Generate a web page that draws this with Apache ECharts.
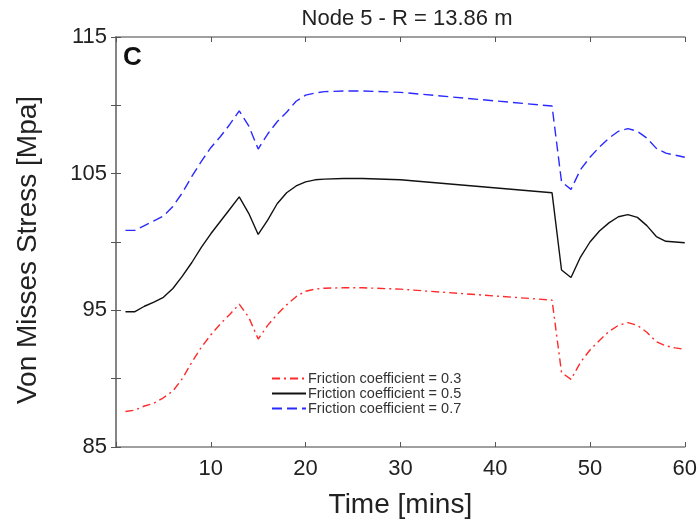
<!DOCTYPE html>
<html>
<head>
<meta charset="utf-8">
<script src="https://cdn.jsdelivr.net/npm/echarts@6/dist/echarts.min.js"></script>
<style>html,body{margin:0;padding:0;background:#fff}#c{width:700px;height:526px}</style>
</head>
<body>
<div id="c"></div>
<script>
// ---- data ----
const times = [1,2,3,4,5,6,7,8,9,10,11,12,13,14,15,16,17,18,19,20,21,22,24,26,30,46,47,48,49,50,51,52,53,54,55,56,57,58,59,60];
const mu03 = [87.6,87.7,88.0,88.2,88.6,89.1,90.0,91.2,92.3,93.2,94.0,94.7,95.45,94.5,92.9,93.9,94.7,95.4,96.0,96.4,96.55,96.62,96.65,96.65,96.55,95.75,90.45,89.95,91.2,92.1,92.8,93.45,93.9,94.1,93.9,93.4,92.7,92.4,92.25,92.15];
const mu05 = [94.9,94.9,95.3,95.6,95.95,96.6,97.5,98.5,99.6,100.6,101.5,102.4,103.3,102.1,100.55,101.6,102.8,103.6,104.1,104.4,104.55,104.6,104.65,104.65,104.55,103.6,97.95,97.4,98.9,100.0,100.8,101.4,101.85,102.0,101.8,101.2,100.4,100.05,100.0,99.95];
const mu07 = [100.85,100.85,101.2,101.55,101.9,102.6,103.6,104.8,105.9,106.9,107.7,108.6,109.6,108.5,106.8,107.9,108.8,109.5,110.3,110.75,110.9,111.0,111.05,111.05,110.95,109.95,104.4,103.85,105.3,106.2,106.95,107.6,108.1,108.3,108.1,107.6,106.85,106.5,106.35,106.2];
const seriesNames = ['Friction coefficient = 0.3','Friction coefficient = 0.5','Friction coefficient = 0.7'];
const yLabels = [85, 95, 105, 115];
const xLabels = [10, 20, 30, 40, 50, 60];
const titleText = 'Node 5 - R = 13.86 m';
const panelLetter = 'C';
const yName = 'Von Misses Stress [Mpa]';
const xName = 'Time [mins]';

const pair = arr => times.map((t, i) => [t, arr[i]]);
const font = 'Liberation Sans, Arial, Helvetica, sans-serif';
const axisLineStyle = { color: '#808080', width: 1.6 };
const tickStyle = { color: '#555', width: 1 };

const chart = echarts.init(document.getElementById('c'), null, { renderer: 'canvas' });
chart.setOption({
  animation: false,
  backgroundColor: '#fff',
  title: {
    text: titleText,
    left: 402, top: 3, textAlign: 'center',
    textStyle: { fontFamily: font, fontSize: 22, fontWeight: 'normal', color: '#222' }
  },
  graphic: [{
    type: 'text', left: 123, top: 45,
    style: { text: panelLetter, font: 'bold 26px ' + font, fill: '#111' }
  }, {
    type: 'text', x: 28, y: 250, rotation: Math.PI / 2,
    style: { text: yName, font: '28px ' + font, fill: '#222', align: 'center', verticalAlign: 'middle' }
  }],
  legend: {
    orient: 'vertical', left: 266, top: 366,
    itemWidth: 34, itemHeight: 10, itemGap: 0,
    itemStyle: { opacity: 0 },
    textStyle: { fontFamily: font, fontSize: 14.5, color: '#333', padding: [0,0,0,-3] },
    data: seriesNames
  },
  grid: { left: 116, right: 11, top: 37, bottom: 79 },
  xAxis: [{
    type: 'value', min: 0, max: 60, interval: 10,
    name: xName, nameLocation: 'middle', nameGap: 44,
    nameTextStyle: { fontFamily: font, fontSize: 28, color: '#222' },
    axisLine: { lineStyle: axisLineStyle },
    axisTick: { inside: true, length: 5, lineStyle: tickStyle },
    axisLabel: { fontFamily: font, fontSize: 22, color: '#222', margin: 11,
      formatter: v => xLabels.includes(v) ? String(v) : '' },
    splitLine: { show: false }
  }, {
    type: 'value', min: 0, max: 60, interval: 10, position: 'top',
    axisLine: { lineStyle: axisLineStyle },
    axisTick: { inside: true, length: 5, lineStyle: tickStyle },
    axisLabel: { show: false }, splitLine: { show: false }
  }],
  yAxis: [{
    type: 'value', min: 85, max: 115, interval: 5,
    axisLine: { show: true, lineStyle: axisLineStyle },
    axisTick: { show: true, inside: true, length: 5, lineStyle: tickStyle },
    axisLabel: { fontFamily: font, fontSize: 22, color: '#222', margin: 9,
      formatter: v => yLabels.includes(v) ? String(v) : '' },
    splitLine: { show: false }
  }, {
    type: 'value', min: 85, max: 115, interval: 5, position: 'right',
    axisLine: { show: true, lineStyle: axisLineStyle },
    axisTick: { show: true, inside: true, length: 5, lineStyle: tickStyle },
    axisLabel: { show: false }, splitLine: { show: false }
  }],
  series: [{
    name: seriesNames[0], type: 'line', data: pair(mu03), symbol: 'none',
    lineStyle: { color: '#ff2a2a', width: 1.4, type: [8, 4, 2, 4] },
    itemStyle: { color: '#ff2a2a' }
  }, {
    name: seriesNames[1], type: 'line', data: pair(mu05), symbol: 'none',
    lineStyle: { color: '#111', width: 1.4, type: 'solid' },
    itemStyle: { color: '#111' }
  }, {
    name: seriesNames[2], type: 'line', data: pair(mu07), symbol: 'none',
    lineStyle: { color: '#2a2aff', width: 1.4, type: [10, 5] },
    itemStyle: { color: '#2a2aff' }
  }]
});
</script>
</body>
</html>
